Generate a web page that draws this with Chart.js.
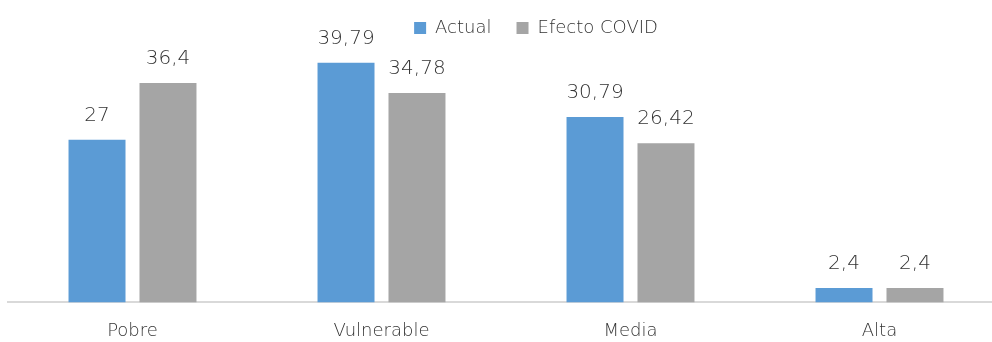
<!DOCTYPE html>
<html>
<head>
<meta charset="utf-8">
<script src="https://cdn.jsdelivr.net/npm/chart.js@4/dist/chart.umd.min.js"></script>
<style>
  html, body { margin: 0; padding: 0; background: #ffffff; }
  #wrap { width: 992px; height: 342px; overflow: hidden; position: relative; }
  canvas { display: block; }
</style>
</head>
<body>
<div id="wrap"><canvas id="c" width="1004" height="360"></canvas></div>
<script>
const categories = ['Pobre', 'Vulnerable', 'Media', 'Alta'];
const seriesNames = ['Actual', 'Efecto COVID'];
const actual = [27, 39.79, 30.79, 2.4];
const efectoCovid = [36.4, 34.78, 26.42, 2.4];

const FONT = "'DejaVu Sans', sans-serif";
const WEIGHT = '200';
const TEXT = '#333333';

function fmt(v) { return String(v).replace('.', ','); }

const valueLabels = {
  id: 'valueLabels',
  afterDatasetsDraw(chart) {
    const ctx = chart.ctx;
    ctx.save();
    ctx.font = WEIGHT + " 20px " + FONT;
    ctx.fillStyle = TEXT;
    ctx.textAlign = 'center';
    ctx.textBaseline = 'alphabetic';
    chart.data.datasets.forEach((ds, i) => {
      chart.getDatasetMeta(i).data.forEach((bar, j) => {
        ctx.fillText(fmt(ds.data[j]), bar.x, bar.y - 19);
      });
    });
    ctx.restore();
  }
};

const legendShift = {
  id: 'legendShift',
  afterLayout(chart) {
    const l = chart.legend;
    if (!l) return;
    l.left += 30; l.right += 30;
    l.top -= 6; l.bottom -= 6;
  }
};

new Chart(document.getElementById('c'), {
  type: 'bar',
  data: {
    labels: categories,
    datasets: [
      { label: seriesNames[0], data: actual, backgroundColor: '#5B9BD5', borderWidth: 0 },
      { label: seriesNames[1], data: efectoCovid, backgroundColor: '#A5A5A5', borderWidth: 0 }
    ]
  },
  options: {
    responsive: false,
    devicePixelRatio: 1,
    animation: false,
    categoryPercentage: 0.57,
    barPercentage: 0.803,
    layout: { padding: { left: 8, right: 0, top: 0, bottom: 0 } },
    plugins: {
      legend: {
        position: 'top',
        labels: {
          boxWidth: 12, boxHeight: 12, padding: 25,
          color: TEXT,
          font: { family: FONT, size: 18, weight: WEIGHT }
        }
      },
      tooltip: { enabled: false }
    },
    scales: {
      x: {
        grid: { display: false, drawTicks: false },
        border: { display: true, color: '#d9d9d9', width: 2 },
        ticks: { color: TEXT, padding: 18, font: { family: FONT, size: 18, weight: WEIGHT } }
      },
      y: {
        display: false,
        min: 0,
        max: 41.4
      }
    }
  },
  plugins: [valueLabels, legendShift]
});
</script>
</body>
</html>
